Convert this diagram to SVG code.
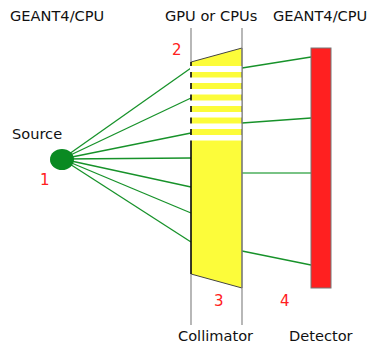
<svg xmlns="http://www.w3.org/2000/svg" width="376" height="343" viewBox="0 0 376 343">
<style>
.lbl{font-family:"DejaVu Sans","Liberation Sans",sans-serif;font-size:14.6px;fill:#111}
.num{font-family:"DejaVu Sans","Liberation Sans",sans-serif;font-size:15px;fill:#ff2020}
.ray{stroke:#17922a;stroke-width:1.3;fill:none}
.guide{stroke:#888;stroke-width:1.2}
.stripe{fill:#ffffff}
</style>
<rect width="376" height="343" fill="#fff"/>
<g id="labels">
<text class="lbl" x="10" y="21">GEANT4/CPU</text>
<text class="lbl" x="165" y="21">GPU or CPUs</text>
<text class="lbl" x="273" y="21">GEANT4/CPU</text>
<text class="lbl" x="12" y="139">Source</text>
<text class="lbl" x="178" y="341">Collimator</text>
<text class="lbl" x="289" y="341">Detector</text>
<text class="num" x="40" y="185">1</text>
<text class="num" x="172" y="55">2</text>
<text class="num" x="214" y="306">3</text>
<text class="num" x="280" y="306">4</text>
</g>
<g id="connectors">
<line class="ray" x1="62" y1="159" x2="191" y2="68"/>
<line class="ray" x1="62" y1="159" x2="191" y2="98"/>
<line class="ray" x1="62" y1="159" x2="191" y2="133"/>
<line class="ray" x1="62" y1="159" x2="191" y2="158"/>
<line class="ray" x1="62" y1="159" x2="191" y2="187"/>
<line class="ray" x1="62" y1="159" x2="191" y2="213"/>
<line class="ray" x1="62" y1="159" x2="191" y2="242"/>
<line class="ray" x1="242" y1="68" x2="311" y2="57"/>
<line class="ray" x1="242" y1="123" x2="311" y2="118"/>
<line class="ray" x1="242" y1="173" x2="311" y2="173" style="stroke:#4caf5c;stroke-width:1.6"/>
<line class="ray" x1="242" y1="251" x2="311" y2="265"/>
</g>
<g id="collimator">
<polygon points="191,62 242,48 242,288 191,274" fill="#fcfc3a" stroke="#444" stroke-width="1"/>
<line x1="191" y1="62" x2="191" y2="274" stroke="#000" stroke-width="1.3"/>
<rect class="stripe" x="190" y="66" width="52" height="6"/>
<rect class="stripe" x="190" y="77.5" width="52" height="5.5"/>
<rect class="stripe" x="190" y="89" width="52" height="5.5"/>
<rect class="stripe" x="190" y="100.5" width="52" height="5.5"/>
<rect class="stripe" x="190" y="112" width="52" height="5.5"/>
<rect class="stripe" x="190" y="123.5" width="52" height="5.5"/>
<rect class="stripe" x="190" y="135" width="52" height="5.5"/>
<line class="guide" x1="191" y1="28" x2="191" y2="62"/>
<line class="guide" x1="191" y1="274" x2="191" y2="325"/>
<line class="guide" x1="242" y1="28" x2="242" y2="325" stroke="#666"/>
</g>
<g id="detector">
<rect x="311" y="48" width="20" height="240" fill="#ff2020" stroke="#777" stroke-width="1"/>
</g>
<g id="source">
<ellipse cx="62" cy="159.5" rx="12" ry="10.5" fill="#0a8a22"/>
</g>
</svg>
